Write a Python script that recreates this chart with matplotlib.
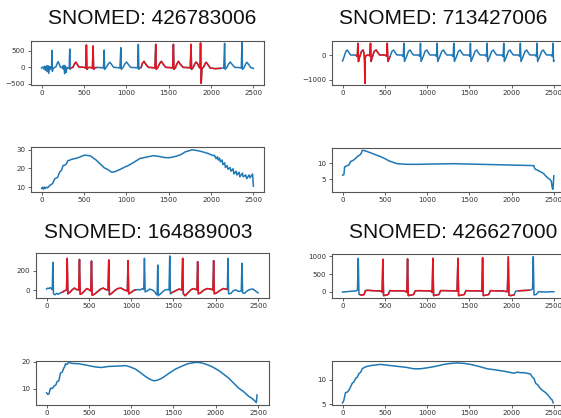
import matplotlib
matplotlib.use('Agg')
import matplotlib.pyplot as plt
import numpy as np

# ---- data (sample index, amplitude) ----
titles = ['SNOMED: 426783006', 'SNOMED: 713427006',
          'SNOMED: 164889003', 'SNOMED: 426627000']

ecg_a_x = [0, 15, 25, 35, 45, 55, 65, 75, 85, 95, 105, 112, 118, 122, 127, 135, 150, 170, 185, 195,
           205, 220, 240, 250, 258, 265, 272, 280, 290, 300, 315, 326, 332, 337, 345, 370, 390, 403, 415, 440,
           500, 520, 529, 535, 550, 570, 600, 608, 614, 625, 640, 660, 690, 710, 730, 738, 744, 760, 790, 806,
           822, 850, 900, 925, 935, 941, 960, 985, 1003, 1020, 1050, 1110, 1133, 1142, 1148, 1165, 1175, 1190, 1209, 1225,
           1260, 1320, 1338, 1347, 1353, 1370, 1395, 1414, 1430, 1465, 1530, 1547, 1556, 1562, 1580, 1600, 1615, 1632, 1670, 1740,
           1755, 1764, 1770, 1788, 1810, 1825, 1842, 1860, 1870, 1876, 1884, 1892, 1910, 1930, 1943, 1958, 1990, 2050, 2110, 2150,
           2160, 2166, 2185, 2210, 2227, 2245, 2280, 2340, 2357, 2365, 2371, 2390, 2410, 2424, 2440, 2470, 2500]
ecg_a_y = [-20, 10, -50, 30, -90, 40, -130, 50, -180, 20, -60, 20, -30, 510, -120, -40, -10, 20, 120, 170,
           120, 10, -10, 40, -60, 60, -190, 40, -150, 0, -30, -10, 550, -60, -20, 0, 110, 155, 110, 10,
           0, -20, 670, -60, -10, 0, -20, 640, -60, -10, -10, 0, -10, -10, -20, 520, -60, -10, 110, 150,
           100, 0, -10, -20, 590, -60, -10, 110, 160, 100, 0, -10, -20, 690, -60, -10, -5, 120, 180, 110,
           0, -10, -20, 690, -60, -10, 120, 180, 110, 0, -10, -20, 690, -60, -10, 120, 180, 110, 0, -10,
           -20, 690, -60, -10, 110, 160, 100, 0, -20, 730, -480, -40, 0, 110, 150, 100, -20, -40, -30, -20,
           720, -60, -10, 110, 160, 100, 0, -10, -20, 740, -60, -10, 110, 150, 100, -10, -30]
ecg_a_red = [(345, 640), (1175, 2110)]

ecg_b_x = [0, 15, 40, 55, 75, 95, 140, 165, 175, 181, 188, 200, 225, 244, 255, 260, 264, 268, 280, 300,
           320, 331, 338, 350, 375, 398, 420, 440, 490, 515, 522, 529, 536, 560, 585, 605, 625, 645, 700, 710,
           718, 725, 732, 755, 780, 800, 820, 840, 900, 915, 922, 929, 952, 977, 997, 1017, 1037, 1097, 1112, 1119,
           1126, 1149, 1174, 1194, 1214, 1234, 1294, 1309, 1316, 1323, 1346, 1371, 1391, 1411, 1431, 1491, 1506, 1513, 1520, 1543,
           1568, 1588, 1608, 1628, 1688, 1703, 1710, 1717, 1740, 1765, 1785, 1805, 1825, 1885, 1900, 1907, 1914, 1937, 1962, 1982,
           2002, 2022, 2082, 2097, 2104, 2111, 2134, 2159, 2179, 2199, 2219, 2279, 2294, 2301, 2308, 2331, 2356, 2376, 2396, 2416,
           2470, 2483, 2490, 2497, 2500]
ecg_b_y = [-240, -100, 150, 200, 100, 0, 0, -20, -60, 467, -260, -100, 150, 200, 50, -200, -1133, -100, -20, 0,
           -30, 467, -260, -100, 150, 200, 80, 0, 0, -20, -50, 467, -260, -80, 150, 200, 80, 0, 0, -30,
           -60, 470, -260, -80, 150, 200, 80, 0, 0, -60, 470, -260, -80, 150, 200, 80, 0, 0, -60, 470,
           -260, -80, 150, 200, 80, 0, 0, -60, 470, -260, -80, 150, 200, 80, 0, 0, -60, 470, -260, -80,
           150, 200, 80, 0, 0, -60, 470, -260, -80, 150, 200, 80, 0, 0, -60, 470, -260, -80, 150, 200,
           80, 0, 0, -60, 470, -260, -80, 150, 200, 80, 0, 0, -60, 470, -260, -80, 150, 200, 80, 0,
           0, -60, 470, -260, -220]
ecg_b_red = [(150, 560)]

ecg_c_x = [0, 15, 30, 45, 60, 68, 74, 82, 100, 120, 140, 160, 184, 200, 220, 236, 244, 252, 275, 300,
           330, 355, 380, 389, 397, 420, 450, 475, 500, 523, 531, 539, 565, 600, 640, 670, 700, 727, 735, 743,
           770, 800, 840, 880, 920, 955, 963, 971, 1000, 1030, 1050, 1080, 1110, 1130, 1149, 1157, 1165, 1190, 1220, 1250,
           1280, 1300, 1308, 1314, 1320, 1340, 1370, 1400, 1430, 1448, 1456, 1464, 1475, 1500, 1540, 1570, 1600, 1609, 1617, 1640,
           1670, 1710, 1740, 1778, 1786, 1794, 1820, 1860, 1900, 1940, 1967, 1975, 1983, 2010, 2050, 2090, 2120, 2132, 2138, 2144,
           2152, 2180, 2210, 2240, 2270, 2302, 2310, 2318, 2340, 2370, 2400, 2440, 2470, 2500]
ecg_c_y = [10, 20, 15, 25, 10, 5, 290, -40, -50, -35, -45, -30, -25, -15, -5, 0, 332, -40, -25, 0,
           20, 5, 0, 321, -45, -35, -10, 15, 5, -10, 304, -55, -45, -20, 10, 20, 5, 0, 315, -50,
           -35, -10, 15, 20, 0, -10, 308, -40, -25, -5, 0, 5, 0, 15, 5, 332, -20, -10, 10, 0,
           -20, -50, -40, 262, -60, -45, -20, 0, 5, 0, 357, -40, -30, -20, 0, 10, 0, 332, -40, -60,
           -30, 5, 15, 0, 297, -40, -30, 0, 15, 10, 0, 308, -40, -30, -5, 15, 10, 5, 10, 332,
           -40, -35, -5, 0, -15, -10, 280, -30, -35, -10, 5, 10, -10, -30]
ecg_c_red = [(184, 1050), (1475, 2132)]

ecg_d_x = [0, 40, 80, 120, 160, 176, 186, 194, 205, 230, 255, 270, 300, 350, 400, 450, 468, 477, 485, 510,
           540, 560, 600, 680, 740, 760, 769, 777, 800, 840, 860, 900, 980, 1040, 1060, 1069, 1077, 1100, 1140, 1160,
           1220, 1290, 1355, 1365, 1373, 1400, 1440, 1460, 1520, 1600, 1648, 1657, 1665, 1690, 1730, 1750, 1800, 1900, 1950, 1961,
           1969, 1990, 2030, 2050, 2085, 2120, 2160, 2200, 2230, 2248, 2257, 2265, 2290, 2320, 2360, 2420, 2460, 2500]
ecg_d_y = [-10, -5, 10, 15, 25, 40, 945, -70, -80, -100, -80, 30, 40, 30, 25, 20, -10, 917, -110, -100,
           -80, 30, 25, 25, 20, -20, 930, -110, -100, -80, 25, 30, 25, 25, -20, 945, -110, -100, -80, 30,
           30, 25, 20, 945, -110, -100, -80, 30, 25, 25, 15, 960, -110, -100, -80, 30, 25, 20, 0, 985,
           -100, -110, -90, 20, 25, 30, 35, 40, 50, 80, 990, -90, -80, 0, -5, -10, 0, 0]
ecg_d_red = [(205, 2030), (2085, 2200)]

trend_a_x = [0, 10, 20, 30, 40, 55, 70, 95, 130, 154, 190, 213, 235, 253, 269, 290, 312, 328, 350, 371,
             387, 410, 450, 466, 509, 525, 569, 585, 640, 687, 740, 782, 825, 841, 865, 920, 1003, 1018, 1080, 1161,
             1255, 1319, 1354, 1398, 1453, 1497, 1532, 1595, 1650, 1694, 1773, 1800, 1872, 1950, 2030, 2040, 2060, 2075,
             2085, 2100, 2110, 2130, 2140, 2160, 2170, 2190, 2200, 2225, 2235, 2260, 2270, 2295, 2305, 2330, 2340, 2370,
             2380, 2410, 2420, 2450, 2460, 2490, 2500]
trend_a_y = [9.4, 9.9, 8.9, 10.0, 9.2, 10.0, 9.6, 10.9, 11.9, 14.4, 15.3, 18.0, 19.0, 21.5, 21.6, 22.3, 24.2, 24.3, 24.8, 25.0,
             25.2, 25.4, 26.0, 26.4, 27.1, 27.0, 26.8, 26.4, 24.6, 22.6, 20.3, 19.4, 18.0, 18.0, 18.3, 19.3, 21.2, 21.4, 23.0, 25.3,
             26.2, 26.8, 26.6, 26.3, 25.8, 25.7, 25.9, 26.6, 27.5, 28.8, 29.9, 29.8, 29.2, 28.2, 26.8, 27.0, 25.2, 26.2,
             24.5, 25.5, 23.5, 24.5, 22.0, 23.0, 20.5, 21.5, 19.5, 20.5, 18.5, 19.8, 17.0, 18.5, 16.5, 18.0, 15.5, 17.5,
             15.5, 16.5, 14.5, 16.5, 15.0, 17.0, 10.5]

trend_b_x = [0, 16, 24, 35, 55, 75, 95, 115, 134, 155, 173, 190, 213, 225, 233, 250, 272, 310, 351, 400,
             450, 500, 548, 600, 647, 700, 765, 900, 1041, 1200, 1317, 1450, 1633, 1800, 1948, 2100, 2264, 2270,
             2283, 2300, 2323, 2340, 2362, 2380, 2402, 2430, 2453, 2470, 2481, 2488, 2494, 2500]
trend_b_y = [6.3, 6.5, 8.9, 9.0, 9.3, 9.5, 10.6, 10.8, 11.1, 11.6, 12.1, 12.4, 12.8, 13.4, 14.1, 14.0, 13.9, 13.5, 13.1, 12.6,
             12.1, 11.5, 10.8, 10.3, 9.9, 9.8, 9.7, 9.7, 9.8, 9.85, 9.9, 9.8, 9.7, 9.6, 9.5, 9.4, 9.3, 8.6,
             8.1, 8.0, 7.6, 7.4, 7.1, 6.8, 6.1, 5.4, 5.0, 4.4, 2.4, 1.9, 3.5, 6.1]

trend_c_x = [0, 15, 28, 47, 70, 86, 110, 126, 145, 165, 185, 204, 214, 224, 240, 263, 300, 381, 480, 578,
             650, 736, 830, 933, 990, 1051, 1110, 1169, 1220, 1267, 1310, 1366, 1440, 1523, 1600, 1661, 1720, 1779, 1830, 1877,
             1950, 2035, 2090, 2153, 2210, 2271, 2330, 2389, 2430, 2468, 2480, 2488]
trend_c_y = [8.6, 8.0, 8.2, 10.3, 10.2, 11.0, 11.5, 12.8, 13.0, 15.9, 16.2, 17.7, 18.2, 19.3, 19.0, 19.8, 19.4, 19.3, 18.7, 18.1,
             17.9, 18.3, 18.4, 18.6, 18.1, 17.3, 16.0, 14.6, 13.6, 13.0, 13.2, 14.0, 15.6, 17.3, 18.4, 19.2, 19.6, 19.8, 19.6, 19.2,
             18.3, 16.8, 15.5, 14.0, 12.2, 10.3, 9.0, 7.3, 6.5, 5.4, 5.0, 7.8]

trend_d_x = [0, 10, 16, 35, 55, 75, 95, 114, 134, 154, 175, 193, 215, 233, 260, 292, 350, 450, 550, 647,
             750, 844, 920, 1002, 1100, 1199, 1280, 1357, 1440, 1514, 1610, 1712, 1800, 1909, 2027, 2070, 2106, 2150, 2205, 2225,
             2245, 2265, 2285, 2310, 2343, 2370, 2402, 2430, 2462, 2480, 2493]
trend_d_y = [5.3, 5.6, 5.9, 7.4, 7.5, 7.9, 8.6, 9.3, 9.6, 10.3, 10.6, 11.3, 11.6, 12.3, 12.6, 12.8, 13.0, 13.2, 13.0, 12.8,
             12.6, 12.3, 12.3, 12.5, 12.8, 13.2, 13.4, 13.5, 13.4, 13.2, 12.8, 12.3, 12.1, 11.8, 11.4, 11.6, 11.5, 11.5, 11.3, 11.2,
             10.6, 10.3, 9.3, 9.0, 8.2, 7.8, 7.4, 6.9, 6.2, 5.9, 5.3]

W, H = 561, 418
BLUE = '#1f77b4'
RED = '#e8141c'
SPINE = '#555555'
LW = 1.1

def box(left, top, right, bottom):
    return [left / W, 1 - bottom / H, (right - left) / W, (bottom - top) / H]

def style(ax, ylim, yticks):
    ax.set_xlim(-125, 2625)
    ax.set_ylim(*ylim)
    ax.set_xticks([0, 500, 1000, 1500, 2000, 2500])
    ax.set_yticks(yticks)
    ax.tick_params(labelsize=5.1, length=2, width=0.6, pad=1.5, colors='#444444', labelcolor='#333333')
    ax.tick_params(axis='y', pad=2.2)
    for s in ax.spines.values():
        s.set_color(SPINE)
        s.set_linewidth(0.8)

def ecg(ax, x, y, red):
    x = np.array(x)
    y = np.array(y)
    ax.plot(x, y, color=BLUE, lw=LW)
    for a, b in red:
        m = (x >= a) & (x <= b)
        ax.plot(x[m], y[m], color=RED, lw=LW)

fig = plt.figure(figsize=(W / 100, H / 100), dpi=100)

panels = [
    # title pos, ecg box, trend box, ecg data, trend data, limits
    ((152, 18), box(31, 41, 264, 85), box(31, 146.5, 264, 192),
     (ecg_a_x, ecg_a_y, ecg_a_red), (trend_a_x, trend_a_y),
     (-530, 790), [-500, 0, 500], (7.4, 31.7), [10, 20, 30]),
    ((443, 18), box(332, 41, 564.4, 85), box(332, 147.7, 564.4, 192.3),
     (ecg_b_x, ecg_b_y, ecg_b_red), (trend_b_x, trend_b_y),
     (-1200, 560), [-1000, 0], (0.95, 14.9), [5, 10]),
    ((148, 232), box(36, 253.3, 268.6, 298.3), box(36, 360.7, 268.6, 405),
     (ecg_c_x, ecg_c_y, ecg_c_red), (trend_c_x, trend_c_y),
     (-87, 385), [0, 200], (4.1, 20.4), [10, 20]),
    ((453, 232), box(332, 254, 564.4, 298.3), box(332, 360.7, 564.4, 405),
     (ecg_d_x, ecg_d_y, ecg_d_red), (trend_d_x, trend_d_y),
     (-187, 1067), [0, 500, 1000], (4.86, 13.96), [5, 10]),
]

for title, (tpos, b1, b2, e, t, yl1, yt1, yl2, yt2) in zip(titles, panels):
    fig.text(tpos[0] / W, 1 - tpos[1] / H, title, ha='center', va='center',
             fontsize=15, family='Liberation Sans', color='#111111')
    ax1 = fig.add_axes(b1)
    ecg(ax1, *e)
    style(ax1, yl1, yt1)
    ax2 = fig.add_axes(b2)
    ax2.plot(t[0], t[1], color=BLUE, lw=LW)
    style(ax2, yl2, yt2)

fig.savefig('out.png', dpi=100)
